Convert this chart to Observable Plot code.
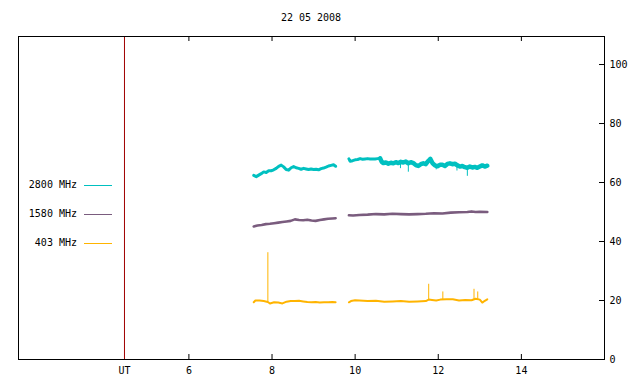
<!DOCTYPE html>
<html><head><meta charset="utf-8">
<script src="https://cdn.jsdelivr.net/npm/d3@7"></script>
<script src="https://cdn.jsdelivr.net/npm/@observablehq/plot@0.6"></script>
<style>
body{margin:0;background:#fff;}
#wrap{position:relative;width:640px;height:384px;font-family:"DejaVu Sans Mono",monospace;font-size:10px;color:#000;overflow:hidden;}
#title{height:24px;width:604px;padding-left:18px;padding-top:12px;box-sizing:border-box;text-align:center;line-height:12px;}
.lg{position:absolute;white-space:pre;line-height:12px;}
.lgline{position:absolute;height:1px;}
</style></head>
<body>
<div id="wrap"><div id="title"></div><div id="chart"></div></div>
<script>
const title = "22 05 2008";
const seriesNames = ["2800 MHz", "1580 MHz", "403 MHz"];
const seriesColors = ["#00c0c0", "#7a5c7e", "#ffb400"];
const xTicks = [6, 8, 10, 12, 14];
const yTicks = [0, 20, 40, 60, 80, 100];
const utPos = 4.45;
const utLabel = "UT";
const gapTime = 9.7;

const s2800 = [[7.56,62.4],[7.62,62.0],[7.68,62.5],[7.74,63.0],[7.80,63.6],[7.86,63.4],[7.92,64.0],[7.98,64.0],[8.04,64.3],[8.10,64.8],[8.16,65.5],[8.22,65.9],[8.28,65.3],[8.34,64.4],[8.40,64.2],[8.46,65.0],[8.52,65.4],[8.58,65.0],[8.64,64.8],[8.70,64.5],[8.76,64.8],[8.82,64.6],[8.88,64.4],[8.94,64.6],[9.00,64.4],[9.06,64.5],[9.12,64.3],[9.18,64.7],[9.24,64.9],[9.30,65.2],[9.36,65.6],[9.42,65.8],[9.48,66.0],[9.53,65.5],
[9.85,68.0],[9.88,67.2],[9.94,67.4],[10.00,67.7],[10.06,67.8],[10.12,68.1],[10.18,67.9],[10.24,68.0],[10.30,68.1],[10.36,68.0],[10.42,68.0],[10.48,68.0],[10.54,68.1],[10.60,68.2],[10.64,67.0],[10.68,66.6],[10.74,66.8],[10.80,66.4],[10.86,66.7],[10.92,66.5],[10.98,66.9],[11.04,66.6],[11.10,67.0],[11.16,66.8],[11.22,67.1],[11.28,66.5],[11.34,66.9],[11.40,66.6],[11.46,65.9],[11.52,65.6],[11.58,66.2],[11.64,66.5],[11.70,66.2],[11.76,67.3],[11.81,68.0],[11.86,66.6],[11.92,65.8],[11.98,65.5],[12.04,66.0],[12.10,66.0],[12.16,65.6],[12.22,66.3],[12.28,66.5],[12.34,66.2],[12.40,66.4],[12.46,65.8],[12.52,65.4],[12.58,65.6],[12.64,65.2],[12.70,65.0],[12.76,65.4],[12.82,65.1],[12.88,65.3],[12.94,65.0],[13.00,65.4],[13.06,65.8],[13.12,65.4],[13.18,65.7]];
const s1580 = [[7.56,45.1],[7.65,45.4],[7.75,45.6],[7.85,45.9],[7.95,46.0],[8.05,46.2],[8.15,46.4],[8.25,46.6],[8.35,46.8],[8.45,47.0],[8.55,47.5],[8.65,47.3],[8.75,47.2],[8.85,47.4],[8.95,47.1],[9.05,47.0],[9.15,47.3],[9.25,47.5],[9.35,47.7],[9.45,47.8],[9.53,47.9],
[9.85,48.9],[9.95,48.8],[10.1,49.0],[10.3,49.1],[10.5,49.3],[10.7,49.2],[10.9,49.4],[11.1,49.3],[11.3,49.2],[11.5,49.3],[11.7,49.4],[11.9,49.6],[12.1,49.5],[12.3,49.8],[12.5,49.9],[12.7,50.0],[12.8,50.2],[12.9,50.0],[13.0,50.1],[13.18,50.0]];
const s403 = [[7.56,19.4],[7.60,20.0],[7.70,20.0],[7.80,19.8],[7.90,19.5],[7.95,19.0],[8.05,19.4],[8.15,19.3],[8.25,19.0],[8.35,19.6],[8.45,19.8],[8.55,19.8],[8.65,19.9],[8.75,19.7],[8.85,19.5],[8.95,19.4],[9.05,19.5],[9.15,19.3],[9.25,19.4],[9.35,19.4],[9.45,19.5],[9.53,19.4],
[9.85,19.4],[9.90,19.8],[10.0,20.1],[10.1,20.0],[10.3,19.8],[10.5,19.9],[10.7,19.6],[10.9,19.7],[11.1,19.8],[11.3,19.6],[11.5,19.7],[11.7,19.8],[11.77,20.3],[11.85,20.2],[11.95,20.0],[12.05,20.3],[12.2,20.4],[12.35,20.4],[12.5,20.0],[12.65,20.2],[12.8,20.1],[12.9,20.6],[13.0,20.3],[13.06,19.3],[13.12,19.9],[13.18,20.4]];
const spikes2800 = [[11.09,66.5,64.7],[11.28,66.5,63.5],[11.95,65.5,64.3],[12.45,65.5,63.9],[12.70,65.0,62.1]];
const spikes403 = [[7.90,19.5,36.2],[11.77,20.0,25.5],[12.11,20.3,22.9],[12.86,20.3,23.8],[12.95,20.3,22.9]];

document.getElementById("title").textContent = title;

const toRows = (arr) => arr.map(([t, v]) => ({t, v, seg: t < gapTime ? 0 : 1}));
const r2800 = toRows(s2800), r1580 = toRows(s1580), r403 = toRows(s403);
const sp = (arr) => arr.map(([t, a, b]) => ({t, a, b}));

const W = 640, H = 360, mL = 18, mR = 36, mT = 12, mB = 25;
const fw = W - mL - mR, fh = H - mT - mB;

const chart = Plot.plot({
  width: W, height: H,
  marginLeft: mL, marginRight: mR, marginTop: mT, marginBottom: mB,
  style: {fontFamily: '"DejaVu Sans Mono", monospace', fontSize: "10px", background: "#fff", color: "#000"},
  x: {domain: [1.9, 16]},
  y: {domain: [0, 109.5]},
  marks: [
    Plot.ruleX([utPos], {x: d => d, stroke: "#a00000", strokeWidth: 1}),
    Plot.tickX(xTicks, {x: d => d, insetTop: fh - 5, stroke: "#000"}),
    Plot.tickX(xTicks, {x: d => d, insetBottom: fh - 5, stroke: "#000"}),
    Plot.tickY(yTicks, {y: d => d, insetLeft: fw - 5, stroke: "#000"}),
    Plot.axisX([utPos, ...xTicks], {tickSize: 0, tickPadding: 7, tickFormat: d => d === utPos ? utLabel : String(d), label: null}),
    Plot.axisY(yTicks, {anchor: "right", tickSize: 0, tickPadding: 5, textAnchor: "start", label: null}),
    Plot.line(r1580, {x: "t", y: "v", z: "seg", stroke: seriesColors[1], strokeWidth: 2.6, curve: "linear"}),
    Plot.line(r403, {x: "t", y: "v", z: "seg", stroke: seriesColors[2], strokeWidth: 2, curve: "linear"}),
    Plot.ruleX(sp(spikes403), {x: "t", y1: "a", y2: "b", stroke: seriesColors[2], strokeWidth: 1}),
    Plot.line(r2800.filter(d => d.t <= 10.62), {x: "t", y: "v", z: "seg", stroke: seriesColors[0], strokeWidth: 3}),
    Plot.line(r2800.filter(d => d.t >= 10.60), {x: "t", y: "v", stroke: seriesColors[0], strokeWidth: 4.5}),
    Plot.ruleX(sp(spikes2800), {x: "t", y1: "a", y2: "b", stroke: seriesColors[0], strokeWidth: 1}),
    Plot.frame({stroke: "#000", strokeWidth: 1})
  ]
});
document.getElementById("chart").appendChild(chart);

// legend (gnuplot-style key inside the frame)
const wrap = document.getElementById("wrap");
const legendTop = 185, legendStep = 29, textRight = 77, lineX = 84, lineW = 28;
seriesNames.forEach((name, i) => {
  const y = legendTop + i * legendStep;
  const t = document.createElement("div");
  t.className = "lg";
  t.textContent = name;
  t.style.right = (640 - textRight) + "px";
  t.style.top = (y - 6) + "px";
  wrap.appendChild(t);
  const l = document.createElement("div");
  l.className = "lgline";
  l.style.left = lineX + "px";
  l.style.width = lineW + "px";
  l.style.top = y + "px";
  l.style.background = seriesColors[i];
  wrap.appendChild(l);
});
</script>
</body></html>
